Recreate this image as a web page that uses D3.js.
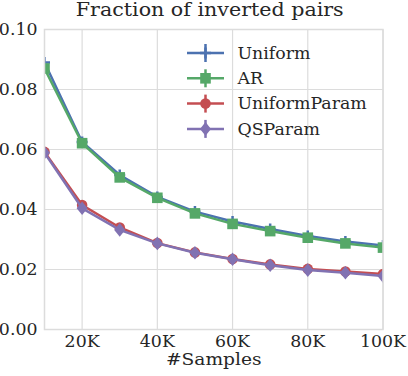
<!DOCTYPE html>
<html>
<head>
<script src="https://d3js.org/d3.v7.min.js"></script>
<style>
  html, body { margin:0; padding:0; background:#fff; }
  svg text { font-family: "DejaVu Serif", serif; fill:#262626; }
</style>
</head>
<body>
<div id="chart"></div>
<script>
var samples = [10000, 20000, 30000, 40000, 50000, 60000, 70000, 80000, 90000, 100000];
var uniform = [0.0890, 0.0625, 0.0515, 0.0442, 0.0393, 0.0360, 0.0335, 0.0312, 0.0293, 0.0280];
var ar = [0.0870, 0.0621, 0.0507, 0.0439, 0.0387, 0.0352, 0.0328, 0.0306, 0.0287, 0.0273];
var uniformParam = [0.0592, 0.0415, 0.0340, 0.0288, 0.0257, 0.0235, 0.0217, 0.0202, 0.0193, 0.0185];
var qsParam = [0.0589, 0.0404, 0.0332, 0.0287, 0.0256, 0.0234, 0.0214, 0.0198, 0.0189, 0.0178];
var seriesNames = ["Uniform", "AR", "UniformParam", "QSParam"];
var yTicks = [0, 0.02, 0.04, 0.06, 0.08, 0.10];
var xTicks = [20000, 40000, 60000, 80000, 100000];

var W = 408, H = 376;
var m = {left: 44.5, right: 25, top: 29.5, bottom: 46.5};
var stretch = 1.085; // the picture's text is a little wider than tall

var svg = d3.select("#chart").append("svg").attr("width", W).attr("height", H);

var x = d3.scaleLinear().domain([10000, 100000]).range([m.left, W - m.right]);
var y = d3.scaleLinear().domain([0, 0.1]).range([H - m.bottom, m.top]);

function label(g, tx, ty, size, anchor, str) {
  return g.append("text")
    .attr("transform", "translate(" + tx + "," + ty + ") scale(" + stretch + ",1)")
    .attr("text-anchor", anchor).attr("font-size", size).text(str);
}

svg.append("clipPath").attr("id", "plotclip").append("rect")
  .attr("x", x(10000)).attr("y", y(0.1))
  .attr("width", x(100000) - x(10000)).attr("height", y(0) - y(0.1));

var grid = "#dcdcdc";
// grid lines
svg.append("g").selectAll("line").data(xTicks).join("line")
  .attr("x1", d => x(d)).attr("x2", d => x(d))
  .attr("y1", y(0)).attr("y2", y(0.1))
  .attr("stroke", grid).attr("stroke-width", 1.2);
svg.append("g").selectAll("line").data(yTicks).join("line")
  .attr("x1", x(10000)).attr("x2", x(100000))
  .attr("y1", d => y(d)).attr("y2", d => y(d))
  .attr("stroke", grid).attr("stroke-width", 1.2);

// tick labels
var yg = svg.append("g");
yTicks.forEach(d => label(yg, 37.5, y(d) + 5.6, 16, "end", d3.format(".2f")(d)));
var xg = svg.append("g");
xTicks.forEach(d => label(xg, x(d), 347, 16, "middle", (d / 1000) + "K"));

label(svg, x(55000), 365, 17.2, "middle", "#Samples");
label(svg, x(55000) - 4, 16, 19, "middle", "Fraction of inverted pairs");

var colors = ["#4c72b0", "#55a868", "#c44e52", "#8172b2"];
var markers = ["plus", "square", "circle", "diamond"];
var allSeries = [uniform, ar, uniformParam, qsParam];

function drawMarker(g, type, cx, cy, color) {
  if (type === "plus") {
    g.append("path").attr("d", "M" + (cx - 5.5) + "," + cy + "h11M" + cx + "," + (cy - 5.5) + "v11")
      .attr("stroke", color).attr("stroke-width", 2.5);
  } else if (type === "square") {
    g.append("rect").attr("x", cx - 5.3).attr("y", cy - 5.3).attr("width", 10.6).attr("height", 10.6)
      .attr("fill", color);
  } else if (type === "circle") {
    g.append("circle").attr("cx", cx).attr("cy", cy).attr("r", 5.3).attr("fill", color);
  } else {
    g.append("path").attr("d", "M" + cx + "," + (cy - 6.8) + "l5.5,6.8l-5.5,6.8l-5.5,-6.8z")
      .attr("fill", color);
  }
}

var line = d3.line().x((d, i) => x(samples[i])).y(d => y(d));
var plot = svg.append("g").attr("clip-path", "url(#plotclip)");
allSeries.forEach(function(vals, k) {
  plot.append("path").datum(vals).attr("d", line)
    .attr("fill", "none").attr("stroke", colors[k]).attr("stroke-width", 2.5);
  vals.forEach(function(v, i) {
    drawMarker(plot, markers[k], x(samples[i]), y(v), colors[k]);
  });
});

svg.append("rect")
  .attr("x", x(10000)).attr("y", y(0.1))
  .attr("width", x(100000) - x(10000)).attr("height", y(0) - y(0.1))
  .attr("fill", "none").attr("stroke", grid).attr("stroke-width", 1.5);

// legend
var leg = svg.append("g");
seriesNames.forEach(function(name, k) {
  var cy = 53 + k * 25.3;
  leg.append("line").attr("x1", 187).attr("x2", 224).attr("y1", cy).attr("y2", cy)
    .attr("stroke", colors[k]).attr("stroke-width", 2.5);
  leg.append("line").attr("x1", 205.5).attr("x2", 205.5).attr("y1", cy - 9).attr("y2", cy + 9)
    .attr("stroke", colors[k]).attr("stroke-width", 2.5);
  drawMarker(leg, markers[k], 205.5, cy, colors[k]);
  label(leg, 237.5, cy + 5.8, 16, "start", name);
});
</script>
</body>
</html>
